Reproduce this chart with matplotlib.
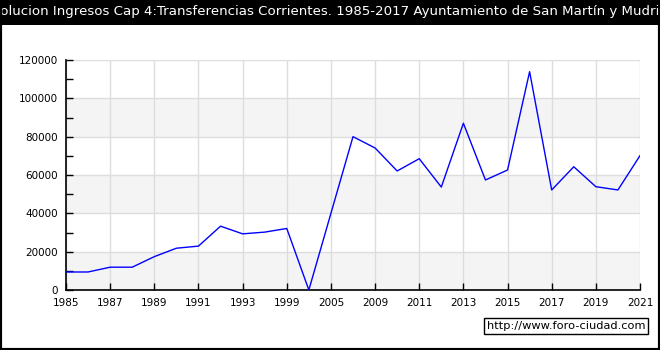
import matplotlib.pyplot as plt
import matplotlib.patches as mpatches
import numpy as np

years = ["1985", "1986", "1987", "1988", "1989", "1990", "1991", "1992", "1993",
         "1995", "1999", "2000", "2005", "2008", "2009", "2010", "2011", "2012",
         "2013", "2014", "2015", "2016", "2017", "2018", "2019", "2020", "2021"]
values = [9400, 9400, 11900, 11900, 17400, 21800, 22900, 33300, 29300,
          30200, 32100, 0, 40000, 80000, 74100, 62100, 68500, 53700,
          87000, 57400, 62600, 113900, 52200, 64300, 53900, 52200, 70100]

title = "Evolucion Ingresos Cap 4:Transferencias Corrientes. 1985-2017 Ayuntamiento de San Martín y Mudrián"
watermark = "http://www.foro-ciudad.com"

fig = plt.figure(figsize=(6.6, 3.5), dpi=100)
fig.patch.set_facecolor("white")

# black title bar + frame
fig.patches.append(mpatches.Rectangle((0, 1 - 25 / 350), 1, 25 / 350, transform=fig.transFigure,
                                      facecolor="black", edgecolor="none", zorder=0))
fig.patches.append(mpatches.Rectangle((0, 0), 1, 1, transform=fig.transFigure,
                                      facecolor="none", edgecolor="black", linewidth=3, zorder=5))
# title is wider than the image, cut off on both sides like the original
fig.text(0.5, 1 - 12 / 350, title, color="white", fontsize=9.6, ha="center", va="center")

ax = fig.add_axes([66 / 660, 60 / 350, 574 / 660, 230 / 350])
x = np.arange(len(years))

# alternating bands
for lo in range(0, 120000, 40000):
    ax.axhspan(lo, lo + 20000, facecolor="#f4f4f4", edgecolor="none", zorder=0)

ax.plot(x, values, color="#0000ff", linewidth=1, zorder=3)

ax.set_xlim(0, len(years) - 1)
ax.set_ylim(0, 120000)
ax.set_xticks(x[::2])
ax.set_xticklabels(years[::2])
ax.set_yticks(np.arange(0, 120001, 20000))
ax.set_yticks(np.arange(10000, 120000, 20000), minor=True)

ax.grid(True, which="major", color="#dddddd", linewidth=1, zorder=1)
ax.set_axisbelow(True)

for s in ["top", "right"]:
    ax.spines[s].set_visible(False)
for s in ["left", "bottom"]:
    ax.spines[s].set_color("black")
    ax.spines[s].set_linewidth(1.2)

ax.tick_params(axis="both", which="both", direction="in", length=5, width=1,
               labelsize=7.5, colors="black")
ax.tick_params(axis="y", which="major", pad=6)
ax.tick_params(axis="x", which="major", pad=6)

# watermark box
fig.text(566 / 660, 1 - 326 / 350, watermark, fontsize=8.2, ha="center", va="center",
         bbox=dict(boxstyle="square,pad=0.25", facecolor="white", edgecolor="black", linewidth=1))

fig.savefig("out.png", dpi=100)
